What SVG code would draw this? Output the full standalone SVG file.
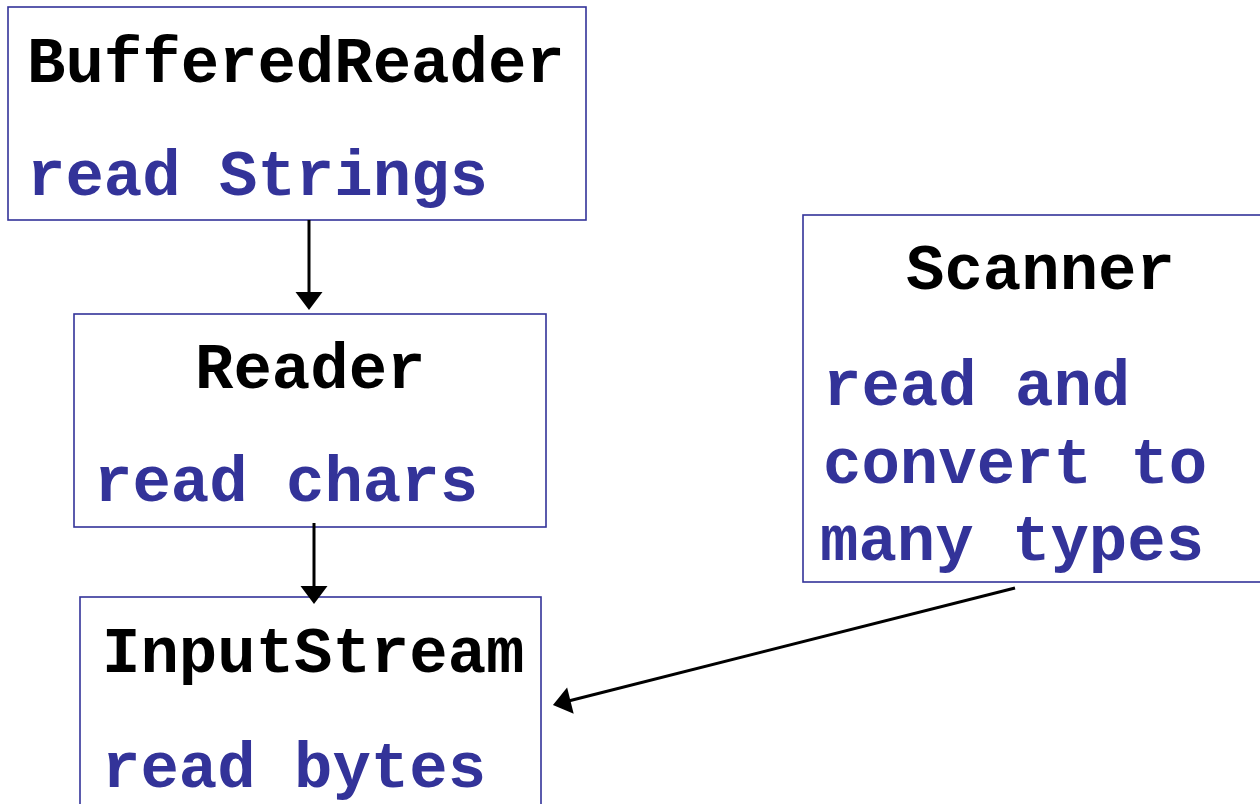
<svg xmlns="http://www.w3.org/2000/svg" width="1260" height="804" viewBox="0 0 1260 804">
  <style>
    .box { fill: #ffffff; stroke: #333399; stroke-width: 1.6; }
    .title { font-family: "Liberation Mono", "Courier New", monospace; font-weight: bold; font-size: 64px; fill: #000000; }
    .desc { font-family: "Liberation Mono", "Courier New", monospace; font-weight: bold; font-size: 64px; fill: #333399; }
    .edge { stroke: #000000; stroke-width: 3; fill: none; marker-end: url(#arrow); }
  </style>
  <defs>
    <!-- filled triangular head; the line stops just inside it -->
    <marker id="arrow" markerWidth="7" markerHeight="10" refX="1" refY="4.5" orient="auto" markerUnits="strokeWidth" overflow="visible">
      <path d="M0,0 L6,4.5 L0,9 Z" fill="#000000"/>
    </marker>
  </defs>
  <rect x="0" y="0" width="1260" height="804" fill="#ffffff"/>

  <g id="node-bufferedreader">
    <rect class="box" x="8" y="7" width="578" height="213"/>
    <text class="title" x="27" y="82">BufferedReader</text>
    <text class="desc" x="27" y="195">read Strings</text>
  </g>

  <g id="node-reader">
    <rect class="box" x="74" y="314" width="472" height="213"/>
    <text class="title" x="195" y="388">Reader</text>
    <text class="desc" x="94" y="501">read chars</text>
  </g>

  <g id="node-inputstream">
    <rect class="box" x="80" y="597" width="461" height="230"/>
    <text class="title" x="102" y="672">InputStream</text>
    <text class="desc" x="102" y="787">read bytes</text>
  </g>

  <g id="node-scanner">
    <rect class="box" x="803" y="215" width="480" height="367"/>
    <text class="title" x="906" y="289">Scanner</text>
    <text class="desc" x="823" y="405">read and</text>
    <text class="desc" x="823" y="483">convert to</text>
    <text class="desc" x="820" y="560">many types</text>
  </g>

  <g id="connectors">
    <line class="edge" x1="309" y1="220" x2="309" y2="295"/>
    <line class="edge" x1="314" y1="523" x2="314" y2="589"/>
    <line class="edge" x1="1015" y1="588" x2="567.5" y2="701.3"/>
  </g>
</svg>
